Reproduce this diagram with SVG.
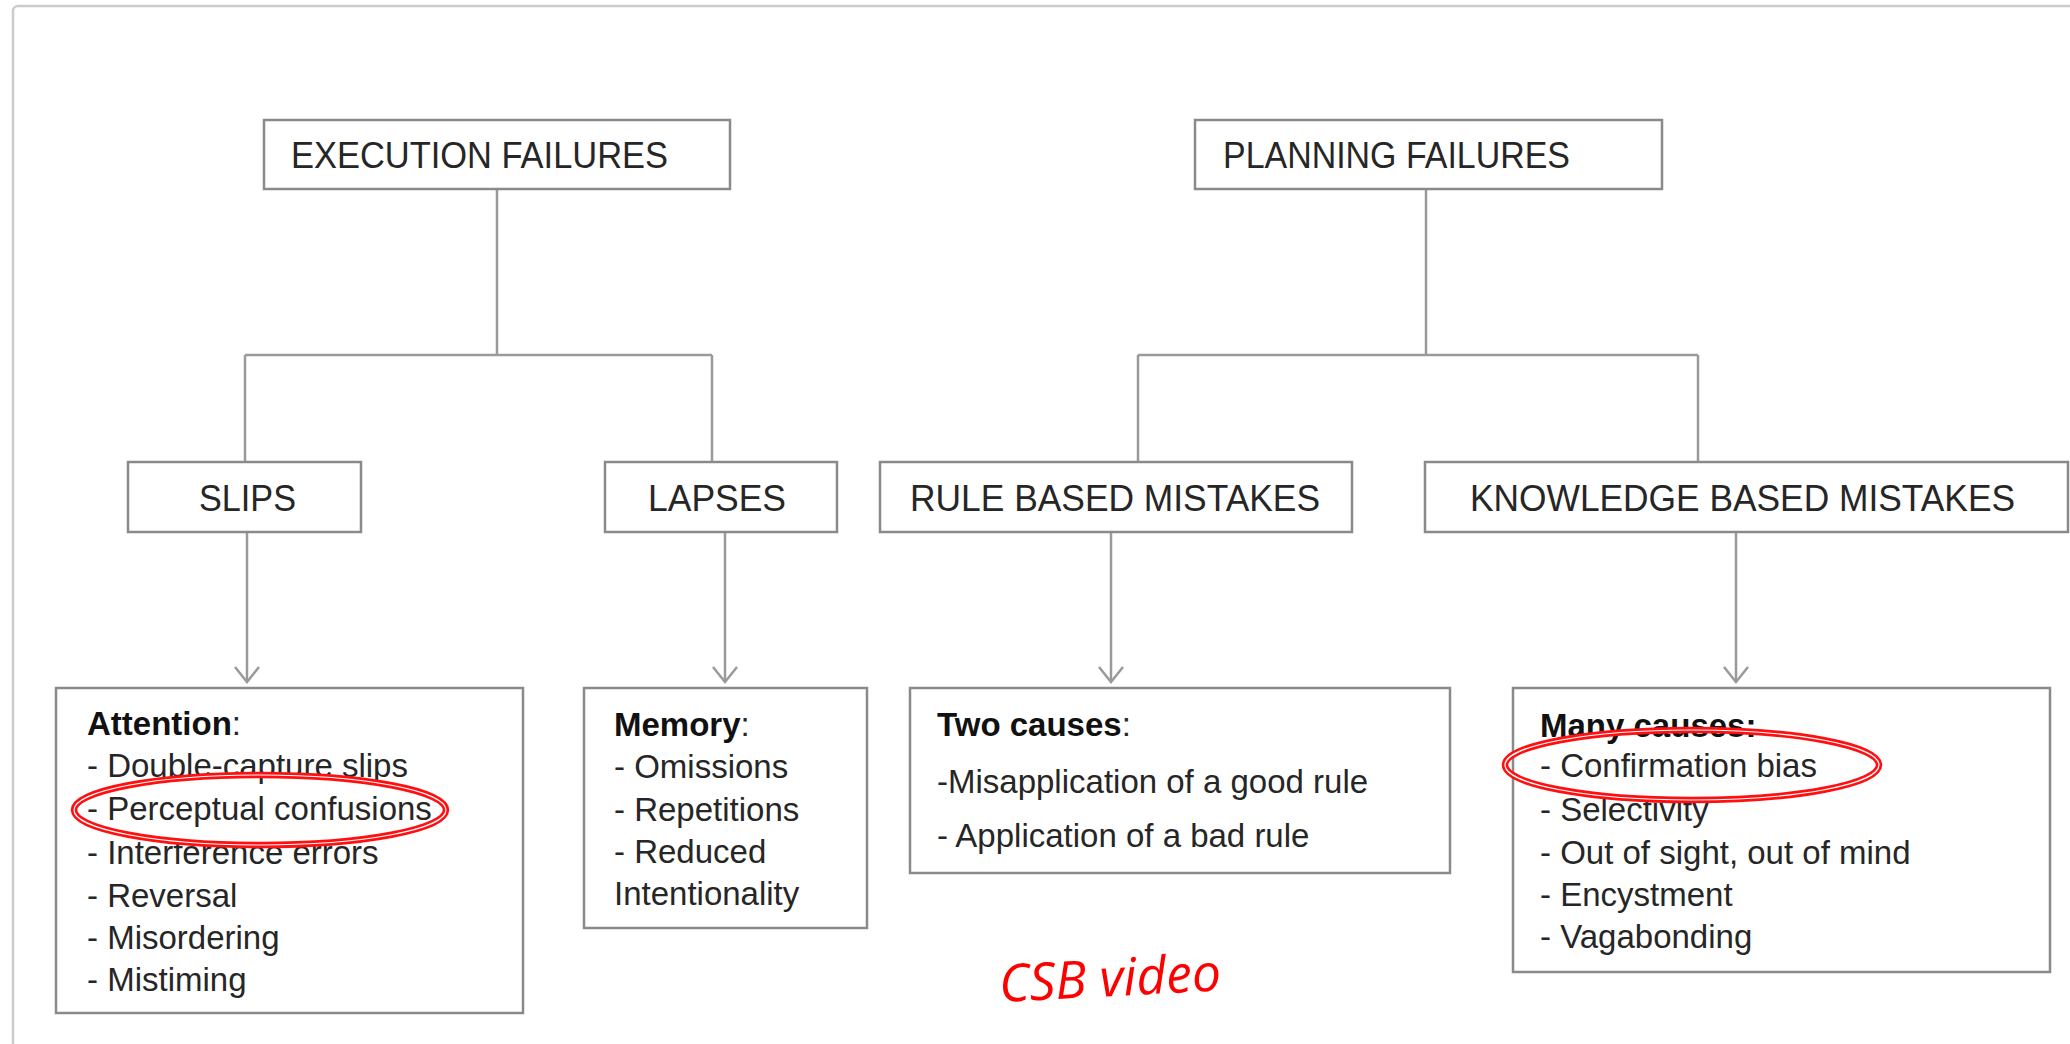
<svg xmlns="http://www.w3.org/2000/svg" width="2070" height="1044" viewBox="0 0 2070 1044">
<style>
.box{fill:#fff;stroke:#8a8a8a;stroke-width:2.5}
.hdr{font-family:"Liberation Sans",Arial,sans-serif;font-size:36px;fill:#262626}
.body{font-family:"Liberation Sans",Arial,sans-serif;font-size:33px;fill:#262626}
.b{font-weight:bold;fill:#111}
.conn{fill:none;stroke:#9a9a9a;stroke-width:2.5}
.ring{fill:none;stroke:#ff0f0f;stroke-width:6.5}
.ringin{fill:none;stroke:#fff;stroke-width:1.2}
</style>
<defs>
<marker id="arr" viewBox="-20 -20 40 40" refX="0" refY="0" markerWidth="40" markerHeight="40" markerUnits="userSpaceOnUse" orient="auto" overflow="visible">
<path d="M-15,-12 L0,0 L-15,12" fill="none" stroke="#9a9a9a" stroke-width="2.5"/>
</marker>
</defs>
<rect x="13" y="6" width="2120" height="1100" rx="5" fill="#fff" stroke="#cccccc" stroke-width="2.5"/>
<g id="connectors">
<path class="conn" d="M497,189 V355 M245,355 H712 M245,355 V462 M712,355 V462"/>
<path class="conn" d="M1426,189 V355 M1138,355 H1698 M1138,355 V462 M1698,355 V462"/>
<path class="conn" d="M247,532 V682" marker-end="url(#arr)"/>
<path class="conn" d="M725,532 V682" marker-end="url(#arr)"/>
<path class="conn" d="M1111,532 V682" marker-end="url(#arr)"/>
<path class="conn" d="M1736,532 V682" marker-end="url(#arr)"/>
</g>
<g id="execution-failures">
<rect class="box" x="264" y="120" width="466" height="69"/>
<text class="hdr" x="291" y="168" textLength="377" lengthAdjust="spacingAndGlyphs">EXECUTION FAILURES</text>
</g>
<g id="planning-failures">
<rect class="box" x="1195" y="120" width="467" height="69"/>
<text class="hdr" x="1223" y="168" textLength="347" lengthAdjust="spacingAndGlyphs">PLANNING FAILURES</text>
</g>
<g id="slips">
<rect class="box" x="128" y="462" width="233" height="70"/>
<text class="hdr" x="199" y="511" textLength="97" lengthAdjust="spacingAndGlyphs">SLIPS</text>
</g>
<g id="lapses">
<rect class="box" x="605" y="462" width="232" height="70"/>
<text class="hdr" x="648" y="511" textLength="138" lengthAdjust="spacingAndGlyphs">LAPSES</text>
</g>
<g id="rule-based">
<rect class="box" x="880" y="462" width="472" height="70"/>
<text class="hdr" x="910" y="511" textLength="410" lengthAdjust="spacingAndGlyphs">RULE BASED MISTAKES</text>
</g>
<g id="knowledge-based">
<rect class="box" x="1425" y="462" width="643" height="70"/>
<text class="hdr" x="1470" y="511" textLength="545" lengthAdjust="spacingAndGlyphs">KNOWLEDGE BASED MISTAKES</text>
</g>
<g id="attention">
<rect class="box" x="56" y="688" width="467" height="325"/>
<text class="body" x="87" y="735"><tspan class="b">Attention</tspan>:</text>
<text class="body" x="87" y="777">- Double-capture slips</text>
<text class="body" x="87" y="820">- Perceptual confusions</text>
<text class="body" x="87" y="864">- Interference errors</text>
<text class="body" x="87" y="907">- Reversal</text>
<text class="body" x="87" y="949">- Misordering</text>
<text class="body" x="87" y="991">- Mistiming</text>
<ellipse class="ring" cx="260" cy="810" rx="186" ry="35"/>
<ellipse class="ringin" cx="260" cy="810" rx="186" ry="35"/>
</g>
<g id="memory">
<rect class="box" x="584" y="688" width="283" height="240"/>
<text class="body" x="614" y="736"><tspan class="b">Memory</tspan>:</text>
<text class="body" x="614" y="778">- Omissions</text>
<text class="body" x="614" y="821">- Repetitions</text>
<text class="body" x="614" y="863">- Reduced</text>
<text class="body" x="614" y="905">Intentionality</text>
</g>
<g id="two-causes">
<rect class="box" x="910" y="688" width="540" height="185"/>
<text class="body" x="937" y="736"><tspan class="b">Two causes</tspan>:</text>
<text class="body" x="937" y="793">-Misapplication of a good rule</text>
<text class="body" x="937" y="847">- Application of a bad rule</text>
</g>
<g id="many-causes">
<rect class="box" x="1513" y="688" width="537" height="284"/>
<text class="body b" x="1540" y="737">Many causes:</text>
<text class="body" x="1540" y="777">- Confirmation bias</text>
<text class="body" x="1540" y="821">- Selectivity</text>
<text class="body" x="1540" y="864">- Out of sight, out of mind</text>
<text class="body" x="1540" y="906">- Encystment</text>
<text class="body" x="1540" y="948">- Vagabonding</text>
<ellipse class="ring" cx="1692" cy="765" rx="187" ry="35"/>
<ellipse class="ringin" cx="1692" cy="765" rx="187" ry="35"/>
</g>
<text x="1000" y="1002" transform="rotate(-3 1000 1002)" font-family="'Open Sans','Noto Sans',sans-serif" font-style="italic" font-size="52" fill="#ff0000" textLength="222" lengthAdjust="spacingAndGlyphs">CSB video</text>
</svg>
